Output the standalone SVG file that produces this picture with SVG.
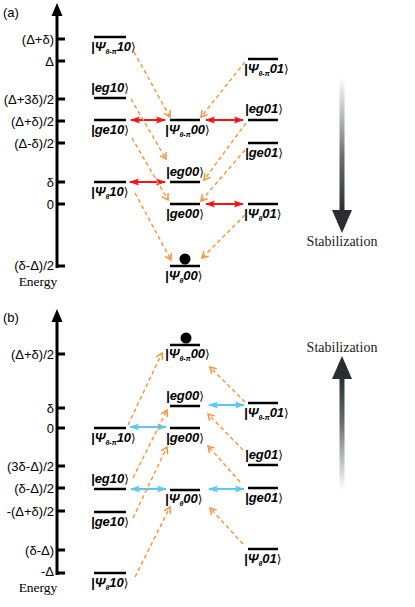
<svg xmlns="http://www.w3.org/2000/svg" width="415" height="607" viewBox="0 0 415 607">
<style>
.ax{stroke:#000;stroke-width:3;fill:none}
.tk{stroke:#000;stroke-width:3}
.tl{font-family:"Liberation Sans",Arial,sans-serif;font-size:13px;fill:#000;text-anchor:end}
.pl{font-family:"Liberation Sans",Arial,sans-serif;font-size:13px;fill:#000}
.en{font-family:"Liberation Serif","Times New Roman",serif;font-size:13.5px;fill:#000;text-anchor:middle}
.st{font-family:"Liberation Serif","Times New Roman",serif;font-size:14px;fill:#222;text-anchor:middle}
.lv{stroke:#000;stroke-width:2.5}
.k{font-family:"Liberation Sans",Arial,sans-serif;font-size:13px;font-style:italic;font-weight:bold;fill:#000}
.sb{font-size:7px}
.rb{font-family:"DejaVu Sans",sans-serif;font-style:normal;font-weight:normal;font-size:12px}
.or{stroke:#F7943A;stroke-width:1.4;stroke-dasharray:4 3;fill:none;marker-end:url(#mo)}
.rd{stroke:#FF1010;stroke-width:2;marker-start:url(#mr);marker-end:url(#mr)}
.cy{stroke:#5CC8F2;stroke-width:2;marker-start:url(#mc);marker-end:url(#mc)}
</style>
<defs>
<marker id="mo" markerUnits="userSpaceOnUse" markerWidth="10" markerHeight="10" refX="7" refY="4" orient="auto" viewBox="0 0 10 8">
<path d="M1,0.5 L7,4 L1,7.5" fill="none" stroke="#F7943A" stroke-width="1.5"/>
</marker>
<marker id="mr" markerUnits="userSpaceOnUse" markerWidth="10" markerHeight="8" refX="9" refY="4" orient="auto-start-reverse" viewBox="0 0 10 8">
<path d="M0,0.5 L10,4 L0,7.5 L2,4 Z" fill="#FF1010"/>
</marker>
<marker id="mc" markerUnits="userSpaceOnUse" markerWidth="10" markerHeight="8" refX="9" refY="4" orient="auto-start-reverse" viewBox="0 0 10 8">
<path d="M0,0.5 L10,4 L0,7.5 L2,4 Z" fill="#5CC8F2"/>
</marker>
<linearGradient id="gdown" x1="0" y1="0" x2="0" y2="1">
<stop offset="0" stop-color="#ffffff"/>
<stop offset="0.6" stop-color="#6a6d70"/>
<stop offset="1" stop-color="#2a2d31"/>
</linearGradient>
<linearGradient id="gup" x1="0" y1="1" x2="0" y2="0">
<stop offset="0" stop-color="#ffffff"/>
<stop offset="0.6" stop-color="#6a6d70"/>
<stop offset="1" stop-color="#2a2d31"/>
</linearGradient>
</defs>

<!-- Panel (a) axis -->
<g id="axis-a">
<text class="pl" x="3" y="17">(a)</text>
<line class="ax" x1="57" y1="12" x2="57" y2="268"/>
<path d="M57,3 L51.5,16 L62.5,16 Z" fill="#000"/>
<line class="tk" x1="57" y1="39" x2="65" y2="39"/><text class="tl" x="54" y="43.5">(Δ+δ)</text>
<line class="tk" x1="57" y1="61" x2="65" y2="61"/><text class="tl" x="54" y="65.5">Δ</text>
<line class="tk" x1="57" y1="99" x2="65" y2="99"/><text class="tl" x="54" y="103.5">(Δ+3δ)/2</text>
<line class="tk" x1="57" y1="121" x2="65" y2="121"/><text class="tl" x="54" y="125.5">(Δ+δ)/2</text>
<line class="tk" x1="57" y1="143" x2="65" y2="143"/><text class="tl" x="54" y="147.5">(Δ-δ)/2</text>
<line class="tk" x1="57" y1="182" x2="65" y2="182"/><text class="tl" x="54" y="186.5">δ</text>
<line class="tk" x1="57" y1="204" x2="65" y2="204"/><text class="tl" x="54" y="208.5">0</text>
<line class="tk" x1="57" y1="266" x2="65" y2="266"/><text class="tl" x="54" y="270">(δ-Δ)/2</text>
<text class="en" x="38" y="286">Energy</text>
</g>

<!-- Panel (a) nodes -->
<g id="a-psi-pi-10"><line class="lv" x1="94" y1="37" x2="126" y2="37"/><text class="k" x="91" y="51">|Ψ<tspan class="sb" dy="3">θ-π</tspan><tspan dy="-3">10</tspan><tspan class="rb">⟩</tspan></text></g>
<g id="a-eg10"><text class="k" x="91" y="92">|eg10<tspan class="rb">⟩</tspan></text><line class="lv" x1="94" y1="98" x2="126" y2="98"/></g>
<g id="a-ge10"><line class="lv" x1="94" y1="120" x2="126" y2="120"/><text class="k" x="91" y="134">|ge10<tspan class="rb">⟩</tspan></text></g>
<g id="a-psi-10"><line class="lv" x1="94" y1="182" x2="126" y2="182"/><text class="k" x="91" y="196">|Ψ<tspan class="sb" dy="3">θ</tspan><tspan dy="-3">10</tspan><tspan class="rb">⟩</tspan></text></g>
<g id="a-psi-pi-00"><line class="lv" x1="170" y1="120" x2="200" y2="120"/><text class="k" x="165" y="134">|Ψ<tspan class="sb" dy="3">θ-π</tspan><tspan dy="-3">00</tspan><tspan class="rb">⟩</tspan></text></g>
<g id="a-eg00"><text class="k" x="166" y="176">|eg00<tspan class="rb">⟩</tspan></text><line class="lv" x1="170" y1="182" x2="200" y2="182"/></g>
<g id="a-ge00"><line class="lv" x1="170" y1="204" x2="200" y2="204"/><text class="k" x="166" y="218">|ge00<tspan class="rb">⟩</tspan></text></g>
<g id="a-psi-00"><circle cx="185" cy="259" r="5.5" fill="#000"/><line class="lv" x1="170" y1="266" x2="200" y2="266"/><text class="k" x="165" y="280">|Ψ<tspan class="sb" dy="3">θ</tspan><tspan dy="-3">00</tspan><tspan class="rb">⟩</tspan></text></g>
<g id="a-psi-pi-01"><line class="lv" x1="248" y1="59" x2="278" y2="59"/><text class="k" x="244" y="73">|Ψ<tspan class="sb" dy="3">θ-π</tspan><tspan dy="-3">01</tspan><tspan class="rb">⟩</tspan></text></g>
<g id="a-eg01"><text class="k" x="245" y="113">|eg01<tspan class="rb">⟩</tspan></text><line class="lv" x1="248" y1="120" x2="278" y2="120"/></g>
<g id="a-ge01"><line class="lv" x1="248" y1="143" x2="278" y2="143"/><text class="k" x="245" y="157">|ge01<tspan class="rb">⟩</tspan></text></g>
<g id="a-psi-01"><line class="lv" x1="248" y1="204" x2="278" y2="204"/><text class="k" x="244" y="218">|Ψ<tspan class="sb" dy="3">θ</tspan><tspan dy="-3">01</tspan><tspan class="rb">⟩</tspan></text></g>

<!-- Panel (a) stabilization arrow -->
<g id="a-stabilization">
<rect x="339.5" y="77" width="5" height="135" fill="url(#gdown)"/>
<path d="M332,210 L352,210 L342,233 Z" fill="#2a2d31"/>
<text class="st" x="342" y="246">Stabilization</text>
</g>

<!-- Panel (a) connectors -->
<g id="connectors-a">
<line class="rd" x1="131" y1="120" x2="165" y2="120"/>
<line class="rd" x1="206" y1="120" x2="243" y2="120"/>
<line class="rd" x1="130" y1="182" x2="165" y2="182"/>
<line class="rd" x1="206" y1="204" x2="243" y2="204"/>
<line class="or" x1="134" y1="52" x2="170" y2="117"/>
<line class="or" x1="245" y1="62" x2="201" y2="117"/>
<line class="or" x1="131" y1="99" x2="166" y2="159"/>
<line class="or" x1="132" y1="138" x2="168" y2="200"/>
<line class="or" x1="246" y1="123" x2="204" y2="180"/>
<line class="or" x1="245" y1="150" x2="201" y2="201"/>
<line class="or" x1="135" y1="193" x2="171" y2="260"/>
<line class="or" x1="245" y1="215" x2="202" y2="258"/>
</g>

<!-- Panel (b) axis -->
<g id="axis-b">
<text class="pl" x="3" y="322">(b)</text>
<line class="ax" x1="57" y1="318" x2="57" y2="575"/>
<path d="M57,309 L51.5,322 L62.5,322 Z" fill="#000"/>
<line class="tk" x1="57" y1="354" x2="65" y2="354"/><text class="tl" x="54" y="358.5">(Δ+δ)/2</text>
<line class="tk" x1="57" y1="408" x2="65" y2="408"/><text class="tl" x="54" y="412.5">δ</text>
<line class="tk" x1="57" y1="428" x2="65" y2="428"/><text class="tl" x="54" y="432.5">0</text>
<line class="tk" x1="57" y1="466" x2="65" y2="466"/><text class="tl" x="54" y="470.5">(3δ-Δ)/2</text>
<line class="tk" x1="57" y1="488" x2="65" y2="488"/><text class="tl" x="54" y="492.5">(δ-Δ)/2</text>
<line class="tk" x1="57" y1="511" x2="65" y2="511"/><text class="tl" x="54" y="515.5">-(Δ+δ)/2</text>
<line class="tk" x1="57" y1="550" x2="65" y2="550"/><text class="tl" x="54" y="554.5">(δ-Δ)</text>
<line class="tk" x1="57" y1="573" x2="65" y2="573"/><text class="tl" x="54" y="576">-Δ</text>
<text class="en" x="38" y="592">Energy</text>
</g>

<!-- Panel (b) nodes -->
<g id="b-psi-pi-00"><circle cx="186" cy="338" r="5.5" fill="#000"/><line class="lv" x1="170" y1="345" x2="200" y2="345"/><text class="k" x="165" y="358">|Ψ<tspan class="sb" dy="3">θ-π</tspan><tspan dy="-3">00</tspan><tspan class="rb">⟩</tspan></text></g>
<g id="b-eg00"><text class="k" x="166" y="400">|eg00<tspan class="rb">⟩</tspan></text><line class="lv" x1="170" y1="406" x2="200" y2="406"/></g>
<g id="b-ge00"><line class="lv" x1="170" y1="428" x2="200" y2="428"/><text class="k" x="166" y="442">|ge00<tspan class="rb">⟩</tspan></text></g>
<g id="b-psi-00"><line class="lv" x1="170" y1="490" x2="200" y2="490"/><text class="k" x="165" y="503">|Ψ<tspan class="sb" dy="3">θ</tspan><tspan dy="-3">00</tspan><tspan class="rb">⟩</tspan></text></g>
<g id="b-psi-pi-10"><line class="lv" x1="94" y1="428" x2="126" y2="428"/><text class="k" x="91" y="442">|Ψ<tspan class="sb" dy="3">θ-π</tspan><tspan dy="-3">10</tspan><tspan class="rb">⟩</tspan></text></g>
<g id="b-eg10"><text class="k" x="91" y="483">|eg10<tspan class="rb">⟩</tspan></text><line class="lv" x1="94" y1="489" x2="126" y2="489"/></g>
<g id="b-ge10"><line class="lv" x1="94" y1="512" x2="126" y2="512"/><text class="k" x="91" y="526">|ge10<tspan class="rb">⟩</tspan></text></g>
<g id="b-psi-10"><line class="lv" x1="94" y1="573" x2="126" y2="573"/><text class="k" x="91" y="587">|Ψ<tspan class="sb" dy="3">θ</tspan><tspan dy="-3">10</tspan><tspan class="rb">⟩</tspan></text></g>
<g id="b-psi-pi-01"><line class="lv" x1="248" y1="403" x2="278" y2="403"/><text class="k" x="244" y="417">|Ψ<tspan class="sb" dy="3">θ-π</tspan><tspan dy="-3">01</tspan><tspan class="rb">⟩</tspan></text></g>
<g id="b-eg01"><text class="k" x="245" y="459">|eg01<tspan class="rb">⟩</tspan></text><line class="lv" x1="248" y1="465" x2="278" y2="465"/></g>
<g id="b-ge01"><line class="lv" x1="248" y1="488" x2="278" y2="488"/><text class="k" x="245" y="502">|ge01<tspan class="rb">⟩</tspan></text></g>
<g id="b-psi-01"><line class="lv" x1="248" y1="549" x2="278" y2="549"/><text class="k" x="244" y="563">|Ψ<tspan class="sb" dy="3">θ</tspan><tspan dy="-3">01</tspan><tspan class="rb">⟩</tspan></text></g>

<!-- Panel (b) stabilization arrow -->
<g id="b-stabilization">
<text class="st" x="342" y="352">Stabilization</text>
<path d="M332,379 L352,379 L342,356 Z" fill="#2a2d31"/>
<rect x="339.5" y="377" width="5" height="113" fill="url(#gup)"/>
</g>

<!-- Panel (b) connectors -->
<g id="connectors-b">
<line class="cy" x1="130" y1="427" x2="166" y2="427"/>
<line class="cy" x1="209" y1="405" x2="244" y2="405"/>
<line class="cy" x1="131" y1="489" x2="166" y2="489"/>
<line class="cy" x1="209" y1="489" x2="244" y2="489"/>
<line class="or" x1="128" y1="425" x2="162" y2="353"/>
<line class="or" x1="245" y1="402" x2="210" y2="367"/>
<line class="or" x1="133" y1="478" x2="167" y2="410"/>
<line class="or" x1="133" y1="518" x2="167" y2="447"/>
<line class="or" x1="243" y1="450" x2="208" y2="414"/>
<line class="or" x1="240" y1="482" x2="208" y2="446"/>
<line class="or" x1="135" y1="577" x2="170" y2="507"/>
<line class="or" x1="243" y1="544" x2="210" y2="508"/>
</g>
</svg>
